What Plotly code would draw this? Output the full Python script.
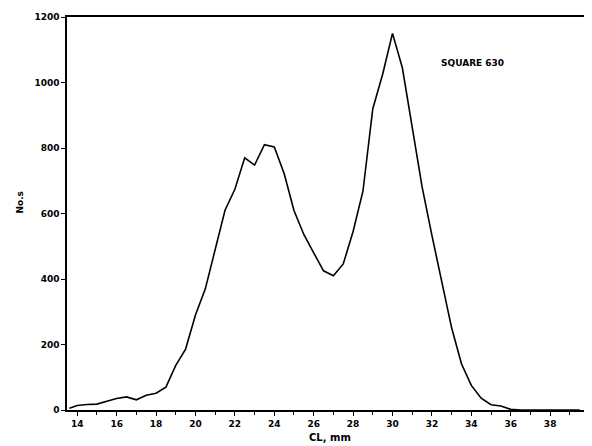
import plotly.graph_objects as go

cl_mm = [13.6, 14.0, 14.5, 15.0, 15.5, 16.0, 16.5, 17.0, 17.5, 18.0, 18.5, 19.0, 19.5,
         20.0, 20.5, 21.0, 21.5, 22.0, 22.5, 23.0, 23.5, 24.0, 24.5, 25.0, 25.5, 26.0,
         26.5, 27.0, 27.5, 28.0, 28.5, 29.0, 29.5, 30.0, 30.5, 31.0, 31.5, 32.0, 32.5,
         33.0, 33.5, 34.0, 34.5, 35.0, 35.5, 36.0, 36.5, 37.0, 37.5, 38.0, 38.5, 39.0, 39.5]
counts = [5, 14, 17, 18, 27, 35, 40, 31, 45, 51, 70, 136, 186,
          290, 370, 490, 610, 674, 770, 748, 810, 803, 722, 609, 536, 480,
          425, 410, 446, 545, 668, 920, 1025, 1150, 1045, 864, 682, 533, 392,
          251, 141, 75, 36, 16, 12, 2, 0, 0, 0, 0, 0, 0, 0]

x_ticks = [14, 16, 18, 20, 22, 24, 26, 28, 30, 32, 34, 36, 38]
y_ticks = [0, 200, 400, 600, 800, 1000, 1200]

fig = go.Figure(go.Scatter(x=cl_mm, y=counts, mode="lines",
                           line=dict(color="black", width=1.6), hoverinfo="skip"))

tickfont = dict(family="DejaVu Sans", size=9, color="black", weight="bold")
fig.update_layout(
    width=584, height=438,
    margin=dict(l=59, r=7, t=4, b=36),
    paper_bgcolor="white", plot_bgcolor="white",
    showlegend=False,
    xaxis=dict(range=[13.48, 39.77], tickvals=x_ticks, ticks="outside", ticklen=4,
               tickwidth=1, tickcolor="black", showline=True, linecolor="black",
               linewidth=1.5, mirror=True, showgrid=False, zeroline=False,
               tickfont=tickfont,
               minor=dict(dtick=1, tick0=14, ticks="outside", ticklen=3,
                          tickcolor="black", showgrid=False)),
    yaxis=dict(range=[0, 1200], tickvals=y_ticks, ticks="outside", ticklen=4,
               tickwidth=1, tickcolor="black", showline=True, linecolor="black",
               linewidth=1.5, mirror=True, showgrid=False, zeroline=False,
               tickfont=tickfont),
    annotations=[
        dict(text="SQUARE 630", xref="paper", yref="paper", x=0.847, y=0.9,
             showarrow=False, font=dict(family="DejaVu Sans", size=9, color="black", weight="bold")),
        dict(text="CL, mm", xref="paper", yref="paper", x=0.508, y=-0.07,
             showarrow=False, yanchor="middle",
             font=dict(family="DejaVu Sans", size=10, color="black", weight="bold")),
        dict(text="No.s", xref="paper", yref="paper", x=-0.091, y=0.53,
             showarrow=False, textangle=-90, xanchor="center",
             font=dict(family="DejaVu Sans", size=9, color="black", weight="bold")),
    ],
)

fig.write_html("out.html")
